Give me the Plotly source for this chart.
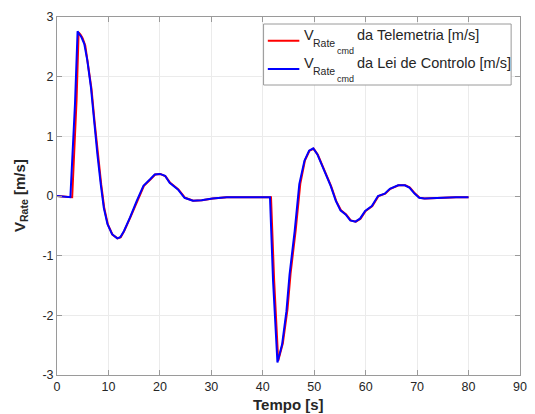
import plotly.graph_objects as go

# ---- data ----
t_lei = [0, 1, 2, 2.6, 3.5, 4.0, 4.3, 4.7, 5.3, 5.9, 6.6, 7.2, 7.85, 8.5, 9.1, 9.8,
         10.7, 11.7, 12.3, 13.0, 14.2, 15.5, 16.8, 18.1, 19.0, 20.0, 21.0, 21.9, 23.5,
         24.8, 26.4, 28.1, 30.2, 33, 36, 39, 41.4, 42.0, 42.85, 43.75, 44.6, 45.2, 46.2,
         47.1, 48.1, 49.0, 49.8, 50.6, 51.9, 53.2, 54.2, 55.1, 56.1, 57.0, 58.0, 58.9,
         59.9, 61.2, 62.4, 63.7, 64.7, 66.3, 67.6, 68.5, 69.5, 70.4, 71.4, 73.3, 75.2,
         77.5, 80]
v_lei = [0, -0.01, -0.02, -0.02, 1.55, 2.76, 2.72, 2.67, 2.55, 2.27, 1.82, 1.26, 0.70,
         0.20, -0.20, -0.47, -0.64, -0.71, -0.69, -0.59, -0.36, -0.08, 0.17, 0.28, 0.36,
         0.37, 0.34, 0.22, 0.11, -0.03, -0.08, -0.07, -0.04, -0.02, -0.02, -0.02, -0.02,
         -1.43, -2.79, -2.49, -1.93, -1.32, -0.59, 0.20, 0.59, 0.76, 0.80, 0.70, 0.45,
         0.17, -0.08, -0.24, -0.31, -0.41, -0.43, -0.38, -0.25, -0.17, 0.0, 0.04, 0.12,
         0.18, 0.18, 0.14, 0.04, -0.03, -0.04, -0.03, -0.03, -0.02, -0.02]

t_tel = [0, 1, 2, 2.95, 3.8, 4.2, 4.6, 5.0, 5.5, 6.0, 6.7, 7.3, 7.95, 8.6, 9.2, 9.9,
         10.8, 11.8, 12.4, 13.1, 14.3, 15.6, 16.9, 18.2, 19.1, 20.1, 21.1, 22.0, 23.6,
         24.9, 26.5, 28.2, 30.3, 33, 36, 39, 41.6, 42.2, 43.0, 43.9, 44.8, 45.4, 46.4,
         47.3, 48.2, 49.1, 49.9, 50.7, 52.0, 53.3, 54.3, 55.2, 56.2, 57.1, 58.1, 59.0,
         60.0, 61.3, 62.5, 63.8, 64.8, 66.4, 67.7, 68.6, 69.6, 70.5, 71.5, 73.4, 75.3,
         77.6, 80]
v_tel = [0, -0.01, -0.02, -0.02, 1.60, 2.74, 2.70, 2.64, 2.52, 2.25, 1.80, 1.25, 0.69,
         0.19, -0.21, -0.48, -0.65, -0.71, -0.69, -0.58, -0.35, -0.08, 0.17, 0.28, 0.36,
         0.37, 0.33, 0.22, 0.11, -0.03, -0.08, -0.07, -0.04, -0.02, -0.02, -0.02, -0.02,
         -1.40, -2.76, -2.47, -1.90, -1.30, -0.57, 0.21, 0.60, 0.76, 0.79, 0.69, 0.44,
         0.16, -0.09, -0.24, -0.31, -0.41, -0.43, -0.38, -0.25, -0.17, 0.0, 0.04, 0.12,
         0.18, 0.18, 0.14, 0.04, -0.03, -0.04, -0.03, -0.03, -0.02, -0.02]

x_ticks = [0, 10, 20, 30, 40, 50, 60, 70, 80, 90]
y_ticks = [-3, -2, -1, 0, 1, 2, 3]
y_tick_text = ["-3", "-2", "-1", "0", "1", "2", "3"]

leg_labels = ["da Telemetria [m/s]", "da Lei de Controlo [m/s]"]
leg_colors = ["#ff0000", "#0000ff"]

FONT = "Liberation Sans, Arial, Helvetica, sans-serif"
W, H = 535, 414
L, R, T, B = 57, 8, 17, 39
PW, PH = W - L - R, H - T - B


def px(x):
    return (x - L) / PW


def py(y):
    return (H - B - y) / PH


fig = go.Figure()
fig.add_trace(go.Scatter(x=t_tel, y=v_tel, mode="lines",
                         line=dict(color=leg_colors[0], width=2), showlegend=False))
fig.add_trace(go.Scatter(x=t_lei, y=v_lei, mode="lines",
                         line=dict(color=leg_colors[1], width=2), showlegend=False))

axis_common = dict(showline=True, linecolor="#9a9a9a", linewidth=1, mirror="ticks",
                   ticks="inside", ticklen=5, tickcolor="#9a9a9a",
                   showgrid=True, gridcolor="#ebebeb", gridwidth=1, zeroline=False,
                   tickfont=dict(family=FONT, size=12.5, color="#262626"))

fig.update_layout(
    width=W, height=H, margin=dict(l=L, r=R, t=T, b=B),
    paper_bgcolor="white", plot_bgcolor="white",
    xaxis=dict(range=[0, 90], tickvals=x_ticks, **axis_common),
    yaxis=dict(range=[-3, 3], tickvals=y_ticks, ticktext=y_tick_text, **axis_common),
)

ann = []
# axis labels
ann.append(dict(text="<b>Tempo [s]</b>", xref="paper", yref="paper", x=0.5, y=0,
                xanchor="center", yanchor="middle", yshift=-29, showarrow=False,
                font=dict(family=FONT, size=15, color="#262626")))
ann.append(dict(text="<b>V<sub>Rate</sub> [m/s]</b>", xref="paper", yref="paper", x=0,
                y=0.5, xanchor="center", yanchor="middle", xshift=-37, textangle=-90,
                showarrow=False, font=dict(family=FONT, size=15, color="#262626")))

# custom legend (nested subscript)
shapes = [dict(type="rect", xref="paper", yref="paper", x0=px(266.7), x1=px(518),
               y0=py(85), y1=py(24), line=dict(color="#9a9a9a", width=1),
               fillcolor="white", layer="above")]
rows = [(35, 42.7, 50.7, 40.7), (63.3, 70.5, 79.0, 69)]
for (yv, yr, yc, yl), lab, col in zip(rows, leg_labels, leg_colors):
    shapes.append(dict(type="line", xref="paper", yref="paper", x0=px(271), x1=px(303),
                       y0=py(yl), y1=py(yl), line=dict(color=col, width=2), layer="above"))
    ann.append(dict(text="V", xref="paper", yref="paper", x=px(305.5), y=py(yv),
                    xanchor="left", yanchor="middle", showarrow=False,
                    font=dict(family=FONT, size=14.5, color="#262626")))
    ann.append(dict(text="Rate", xref="paper", yref="paper", x=px(314.7), y=py(yr),
                    xanchor="left", yanchor="middle", showarrow=False,
                    font=dict(family=FONT, size=10.5, color="#262626")))
    ann.append(dict(text="cmd", xref="paper", yref="paper", x=px(339), y=py(yc),
                    xanchor="left", yanchor="middle", showarrow=False,
                    font=dict(family=FONT, size=9, color="#262626")))
    ann.append(dict(text=lab, xref="paper", yref="paper", x=px(359.7), y=py(yv),
                    xanchor="left", yanchor="middle", showarrow=False,
                    font=dict(family=FONT, size=14.5, color="#262626")))

fig.update_layout(annotations=ann, shapes=shapes)
fig.write_html("out.html")
